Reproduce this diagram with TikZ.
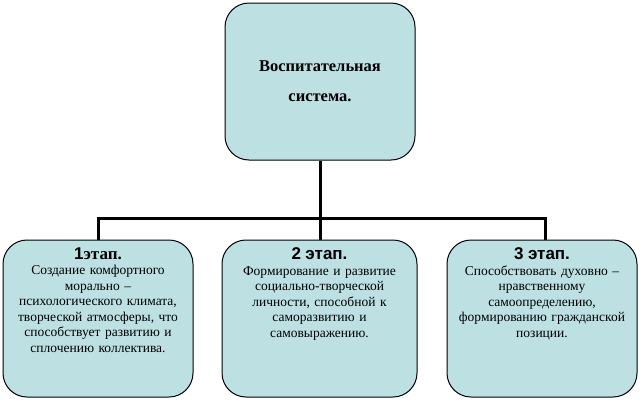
\documentclass[tikz,border=0pt]{standalone}
\usepackage{fontspec}
\setmainfont{Liberation Serif}
\newfontfamily\headfont{Liberation Sans}
\usetikzlibrary{positioning}
\definecolor{boxfill}{HTML}{BDE0E3}
\tikzset{
  stagebox/.style={draw=black, line width=1pt, fill=boxfill, rounded corners=24pt,
    minimum width=190pt, minimum height=157pt},
  stagetext/.style={anchor=north, align=center, text width=188pt, inner sep=0pt,
    font=\fontsize{13.5}{15.5}\selectfont},
  link/.style={line width=3pt}
}
\begin{document}
\begin{tikzpicture}[x=1pt, y=-1pt]
  \useasboundingbox (0,0) rectangle (642,402);
  \node[stagebox, minimum width=190pt] (top) at (320,81.5) {};
  \node[align=center, font=\bfseries\fontsize{16.5}{30}\selectfont] (toptext) at (top.center) {Воспитательная\\система.};

  \node[stagebox] (s1) at (98,318.5) {};
  \node[stagebox, minimum width=195pt] (s2) at (319.5,318.5) {};
  \node[stagebox] (s3) at (542,318.5) {};

  \node[stagetext] (t1) at ([yshift=-8pt]s1.north) {{\headfont\bfseries\fontsize{17}{20}\selectfont 1}{\bfseries\fontsize{17}{20}\selectfont этап.}\\[0pt]
    Создание комфортного\\морально --\\психологического климата,\\творческой атмосферы, что\\способствует развитию и\\сплочению коллектива.};
  \node[stagetext] (t2) at ([yshift=-8pt]s2.north) {{\headfont\bfseries\fontsize{17}{20}\selectfont 2 этап.}\\[0pt]
    Формирование и развитие\\социально-творческой\\личности, способной к\\саморазвитию и\\самовыражению.};
  \node[stagetext] (t3) at ([yshift=-8pt]s3.north) {{\headfont\bfseries\fontsize{17}{20}\selectfont 3 этап.}\\[0pt]
    Способствовать духовно --\\нравственному\\самоопределению,\\формированию гражданской\\позиции.};

  \coordinate (hub) at (320,218);
  \coordinate (left) at (98,218);
  \coordinate (right) at (545,218);
  \draw[link] (top.south) -- (hub);
  \draw[link] ([xshift=-1.5pt]left) -- ([xshift=1.5pt]right);
  \draw[link] (left) -- (s1.north -| left);
  \draw[link] (hub) -- (s2.north -| hub);
  \draw[link] (right) -- (s3.north -| right);
\end{tikzpicture}
\end{document}
